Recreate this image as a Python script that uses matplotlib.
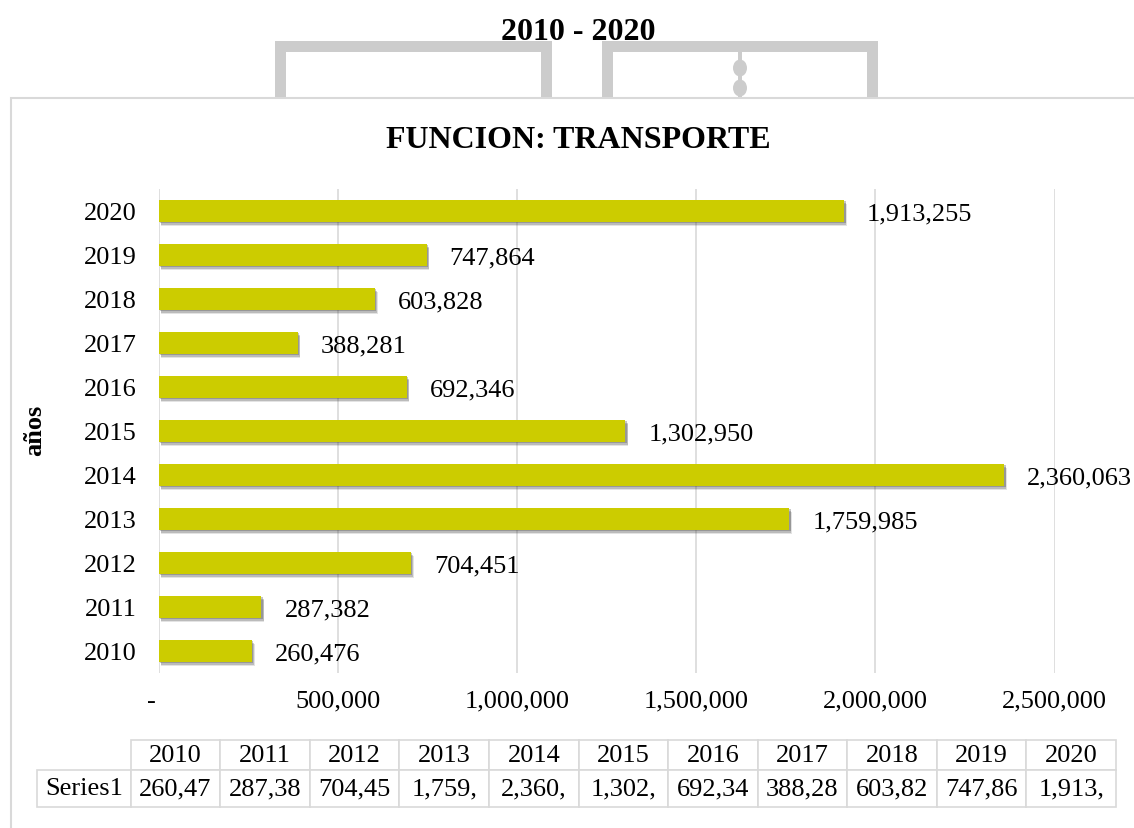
import matplotlib.pyplot as plt
from matplotlib import patheffects
from matplotlib.patches import Rectangle, Ellipse

plt.rcParams['font.family'] = ['Liberation Serif', 'DejaVu Serif']

# data
years = ['2010', '2011', '2012', '2013', '2014', '2015',
         '2016', '2017', '2018', '2019', '2020']
values = [260476, 287382, 704451, 1759985, 2360063, 1302950,
          692346, 388281, 603828, 747864, 1913255]
x_ticks = [0, 500000, 1000000, 1500000, 2000000, 2500000]
x_tick_labels = ['-  ', '500,000', '1,000,000', '1,500,000', '2,000,000', '2,500,000']
series_name = 'Series1'
top_title = '2010 - 2020'
main_title = 'FUNCION: TRANSPORTE'
y_label = 'años'

W, H = 1134, 829
fig = plt.figure(figsize=(W / 100, H / 100), dpi=100)


def fx(x):
    return x / W


def fy(y):
    return 1 - y / H


def box(x0, y0, x1, y1, **kw):
    # rectangle given in pixel coords (top-left origin)
    return Rectangle((fx(x0), fy(y1)), (x1 - x0) / W, (y1 - y0) / H,
                     transform=fig.transFigure, **kw)


# grey brackets peeking out above the chart frame
grey = '#CCCCCC'
for left, right in [(275, 552), (602, 878)]:
    fig.patches.append(box(left, 42, right, 120, facecolor=grey, edgecolor='none', zorder=-5))
    fig.patches.append(box(left + 11, 53, right - 11, 120, facecolor='white', edgecolor='none', zorder=-4))
fig.patches.append(box(738, 53, 742, 120, facecolor=grey, edgecolor='none', zorder=-3))
for cy in [69, 89]:
    fig.patches.append(Ellipse((fx(740), fy(cy)), 14 / W, 17 / H, transform=fig.transFigure,
                               facecolor=grey, edgecolor='none', zorder=-3))

# chart frame
fig.patches.append(box(11, 99, 1300, 1000, facecolor='white', edgecolor='#D9D9D9',
                       linewidth=1.5, zorder=-2))

fig.text(fx(578), fy(33), top_title, ha='center', va='center', fontsize=23, fontweight='bold')
fig.text(fx(578), fy(140), main_title, ha='center', va='center', fontsize=23, fontweight='bold')
fig.text(fx(35), fy(430), y_label, rotation=90, ha='center', va='center', fontsize=19, fontweight='bold')

# bars
ax = fig.add_axes([fx(158.5), fy(674), 896 / W, 484 / H])
ax.patch.set_alpha(0)
pos = list(range(len(years)))
shadow = [patheffects.SimplePatchShadow(offset=(2, -3), shadow_rgbFace='#444444', alpha=0.15),
          patheffects.SimplePatchShadow(offset=(1.5, -2), shadow_rgbFace='#444444', alpha=0.25),
          patheffects.SimplePatchShadow(offset=(1, -1), shadow_rgbFace='#444444', alpha=0.3),
          patheffects.Normal()]
ax.barh(pos, values, height=0.5, color='#CCCC00', path_effects=shadow, zorder=2)

for p, v in zip(pos, values):
    ax.annotate(f'{v:,}', (v, p), xytext=(16.5, 0), textcoords='offset points',
                va='center_baseline', ha='left', fontsize=19)

ax.set_xlim(0, 2500000)
ax.set_ylim(-0.5, 10.5)
ax.set_xticks(x_ticks, x_tick_labels)
ax.set_yticks(pos, years)
ax.grid(axis='x', color='#D9D9D9', linewidth=1.2)
ax.set_axisbelow(True)
for s in ax.spines.values():
    s.set_visible(False)
ax.tick_params(axis='x', length=0, labelsize=19, pad=12)
ax.tick_params(axis='y', length=0, labelsize=19, pad=16)

# data table under the chart (bbox covers the value columns; row label sits left of it)
tw, th = 1116 - 39, 808 - 741
tax = fig.add_axes([fx(39), fy(808), tw / W, th / H])
tax.axis('off')
label_w = 91.7 / tw
col_w = (1 - label_w) / len(years)
cell_text = [[f'{v:,}'[:6] for v in values]]
tbl = tax.table(cellText=cell_text, rowLabels=[series_name], colLabels=years,
                bbox=[label_w, 0, 1 - label_w, 1], cellLoc='center', rowLoc='center')
tbl.auto_set_font_size(False)
tbl.set_fontsize(19)
for (r, c), cell in tbl.get_celld().items():
    cell.set_edgecolor('#D9D9D9')
    cell.set_linewidth(1.2)
    cell.set_width(label_w if c == -1 else col_w)
    cell.set_height(30 / th if r == 0 else 37 / th)

fig.savefig('out.png', dpi=100)
